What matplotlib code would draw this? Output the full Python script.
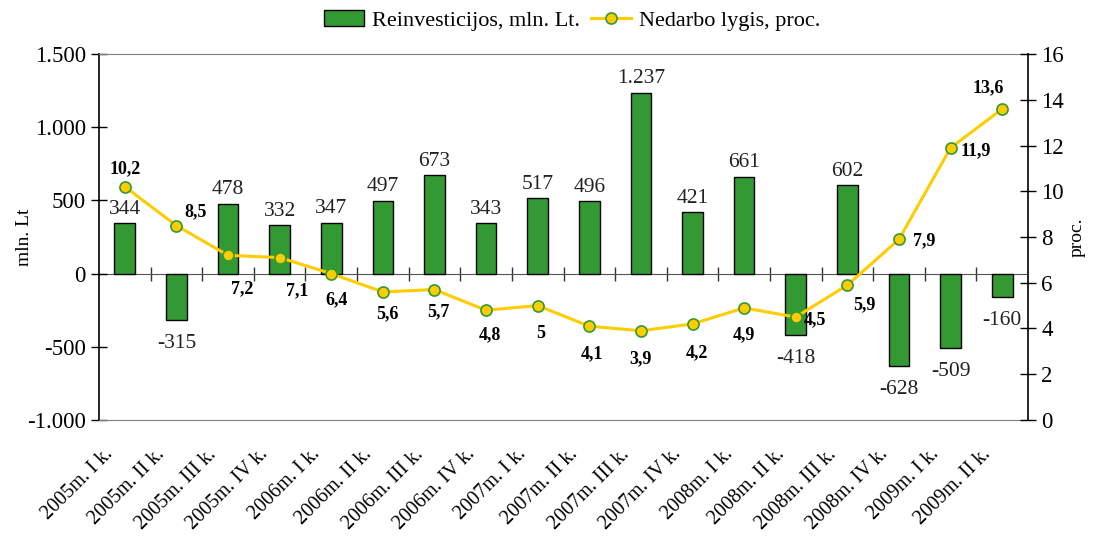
import matplotlib.pyplot as plt
from matplotlib.ticker import FuncFormatter, FixedLocator
from matplotlib.transforms import ScaledTranslation
import numpy as np

plt.rcParams["font.family"] = ["Liberation Serif", "DejaVu Serif"]

# --- data ---------------------------------------------------------------
quarters = [
    "2005m. I k.", "2005m. II k.", "2005m. III k.", "2005m. IV k.",
    "2006m. I k.", "2006m. II k.", "2006m. III k.", "2006m. IV k.",
    "2007m. I k.", "2007m. II k.", "2007m. III k.", "2007m. IV k.",
    "2008m. I k.", "2008m. II k.", "2008m. III k.", "2008m. IV k.",
    "2009m. I k.", "2009m. II k.",
]
reinvest = [344, -315, 478, 332, 347, 497, 673, 343, 517, 496,
            1237, 421, 661, -418, 602, -628, -509, -160]
unemployment = [10.2, 8.5, 7.2, 7.1, 6.4, 5.6, 5.7, 4.8, 5.0, 4.1,
                3.9, 4.2, 4.9, 4.5, 5.9, 7.9, 11.9, 13.6]
unemp_labels = ["10,2", "8,5", "7,2", "7,1", "6,4", "5,6", "5,7", "4,8", "5",
                "4,1", "3,9", "4,2", "4,9", "4,5", "5,9", "7,9", "11,9", "13,6"]

# label offsets (points) for the line values
line_offsets = [(0, 13), (14, 10), (10, -24), (13, -24), (4, -19), (3, -16),
                (3, -16), (3, -18), (2, -20), (2, -20), (0, -20), (3, -21),
                (0, -19), (14, -2), (12, -14), (18, -1), (18, -2), (-10, 15)]

GREEN = "#339933"
YELLOW = "#FFCC00"


def thousands(v, _pos):
    s = f"{abs(int(v)):,}".replace(",", ".")
    return ("-" if v < 0 else "") + s


fig = plt.figure(figsize=(10.96, 5.37), dpi=100)
ax = fig.add_axes([0.0903, 0.2179, 0.8477, 0.6815])
x = np.arange(len(quarters))

bars = ax.bar(x, reinvest, width=0.4, color=GREEN, edgecolor="black",
              linewidth=1.0, zorder=2, label="Reinvesticijos, mln. Lt.")
for xi, v in zip(x, reinvest):
    ax.annotate(thousands(v, None), (xi, v), xytext=(0, 10 if v > 0 else -17),
                textcoords="offset points", ha="center", va="center",
                fontsize=15.5, color="#222222", zorder=5)

ax.set_xlim(-0.5, len(quarters) - 0.5)
ax.set_ylim(-1000, 1500)
ax.set_yticks(np.arange(-1000, 1501, 500))
ax.yaxis.set_major_formatter(FuncFormatter(thousands))
ax.set_xticks(x)
ax.tick_params(axis="x", length=0, pad=6)
ax.tick_params(axis="y", direction="inout", length=11, labelsize=16.5, width=1,
               pad=4)
ax.set_xticklabels(quarters, rotation=45, ha="right", rotation_mode="anchor",
                   fontsize=14.5)
shift = ScaledTranslation(-15 / 72, -12 / 72, fig.dpi_scale_trans)
for lbl in ax.get_xticklabels():
    lbl.set_transform(lbl.get_transform() + shift)
ax.set_ylabel("mln. Lt", fontsize=14)
ax.yaxis.set_label_coords(-0.0706, 0.5)

for side in ("top", "bottom"):
    ax.spines[side].set_color("#808080")
ax.spines["left"].set_linewidth(1.2)
ax.spines["right"].set_visible(False)

# zero line with category boundary ticks
zero_axis = ax.secondary_xaxis(0, transform=ax.transData)
zero_axis.xaxis.set_major_locator(FixedLocator(np.arange(0.5, len(quarters) - 1, 1.0)))
zero_axis.tick_params(direction="inout", length=10, labelbottom=False,
                      width=1, color="#333333")
zero_axis.spines["bottom"].set_color("#555555")

ax2 = ax.twinx()
line, = ax2.plot(x, unemployment, color=YELLOW, linewidth=2.2, marker="o",
                 markersize=8, markerfacecolor=YELLOW, markeredgecolor=GREEN,
                 markeredgewidth=1.2, zorder=3, label="Nedarbo lygis, proc.")
for xi, v, lab, off in zip(x, unemployment, unemp_labels, line_offsets):
    ax2.annotate(lab, (xi, v), xytext=off, textcoords="offset points",
                 ha="center", va="center", fontsize=13, fontweight="bold")
ax2.set_ylim(0, 16)
ax2.set_yticks(np.arange(0, 17, 2))
ax2.tick_params(axis="y", direction="inout", length=11, labelsize=16.5, width=1,
                pad=4)
ax2.set_ylabel("proc.", fontsize=14, labelpad=3)
ax2.spines["right"].set_linewidth(1.2)
for side in ("top", "bottom", "left"):
    ax2.spines[side].set_visible(False)

fig.legend([bars, line], [bars.get_label(), line.get_label()],
           loc="center", bbox_to_anchor=(0.522, 0.962), ncol=2, frameon=False,
           fontsize=16, handlelength=1.8, columnspacing=0.5, handletextpad=0.35)

fig.savefig("out.png", dpi=100)
